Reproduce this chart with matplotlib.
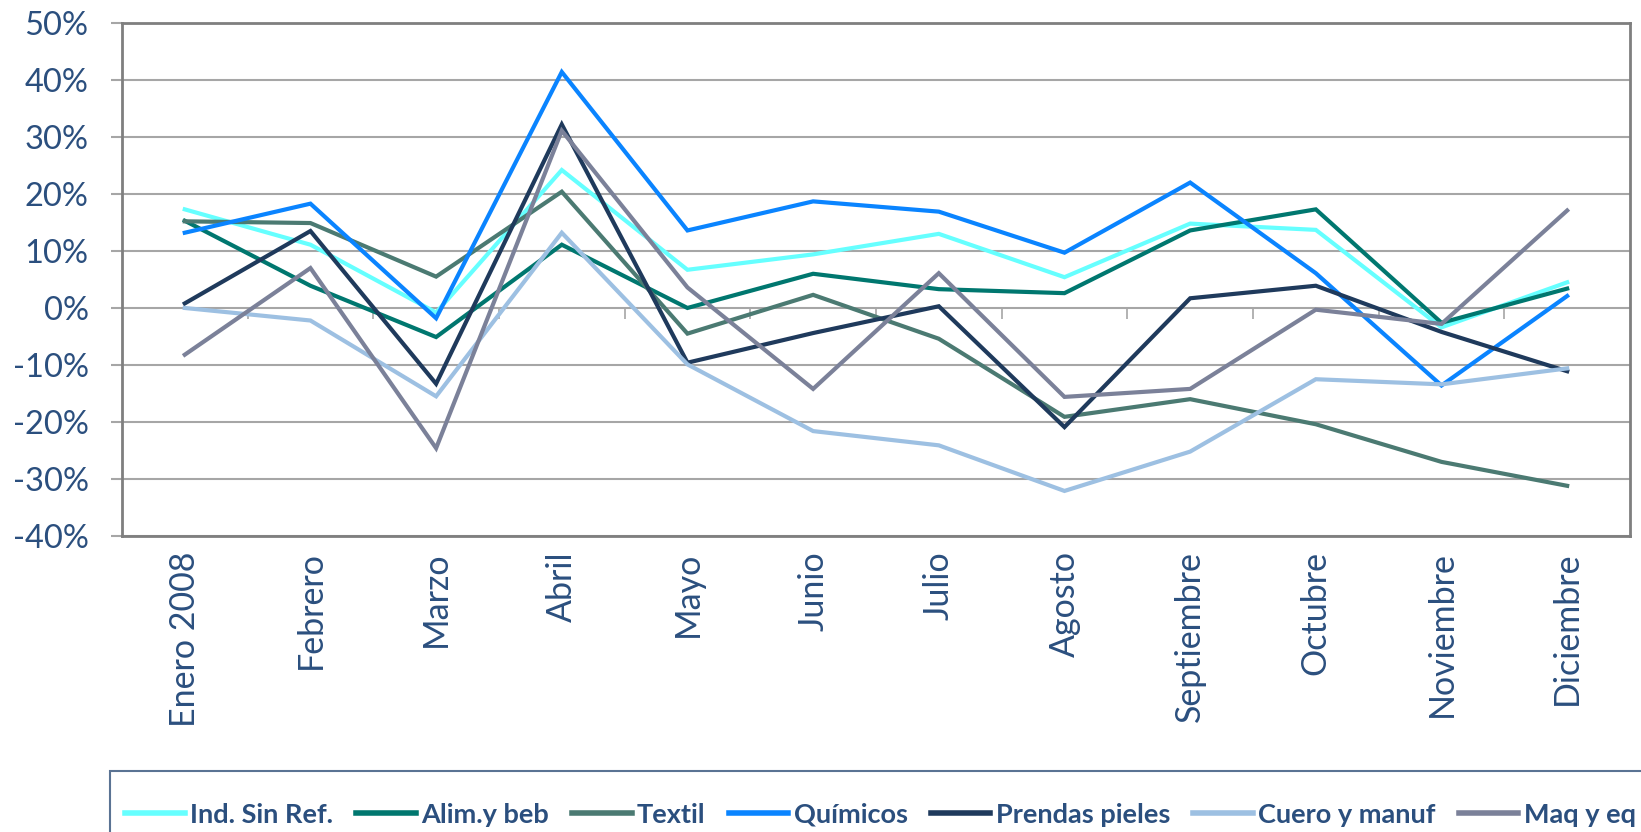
import numpy as np
import matplotlib
matplotlib.use("Agg")
import matplotlib.pyplot as plt
from matplotlib.patches import Rectangle

# categorias (meses) y series en %
meses = ["Enero 2008", "Febrero", "Marzo", "Abril", "Mayo", "Junio", "Julio",
         "Agosto", "Septiembre", "Octubre", "Noviembre", "Diciembre"]

ind_sin_ref = [17.3, 11.1, -0.8, 24.2, 6.7, 9.4, 13.0, 5.4, 14.8, 13.7, -3.4, 4.5]
alim_beb = [15.3, 3.9, -5.1, 11.1, 0.0, 6.0, 3.3, 2.6, 13.6, 17.3, -2.6, 3.4]
textil = [15.2, 14.9, 5.5, 20.4, -4.5, 2.3, -5.4, -19.1, -16.0, -20.4, -27.0, -31.2]
quimicos = [13.2, 18.3, -1.8, 41.4, 13.6, 18.7, 16.9, 9.7, 22.0, 6.1, -13.6, 2.1]
prendas = [0.8, 13.5, -13.3, 32.2, -9.6, -4.4, 0.3, -20.9, 1.7, 3.9, -4.2, -11.1]
cuero = [0.0, -2.2, -15.5, 13.2, -9.9, -21.6, -24.1, -32.1, -25.2, -12.5, -13.4, -10.6]
maq_eq = [-8.2, 7.0, -24.6, 31.1, 3.6, -14.2, 6.1, -15.6, -14.2, -0.3, -2.8, 17.1]

nombres = ["Ind. Sin Ref.", "Alim.y beb", "Textil", "Químicos",
           "Prendas pieles", "Cuero y manuf", "Maq y eq"]
series = [ind_sin_ref, alim_beb, textil, quimicos, prendas, cuero, maq_eq]
colores = ["#66FFFF", "#00776F", "#4B7A72", "#0A84FF", "#1F3A5C", "#9DC0E2", "#7B8199"]

txt = "#2B4F7E"

fig = plt.figure(figsize=(16.41, 8.32), dpi=100)
ax = fig.add_axes([0.0743, 0.3558, 0.9190, 0.6166])

x = np.arange(len(meses))
for vals, nom, col in zip(series, nombres, colores):
    ax.plot(x, vals, color=col, lw=3.0, label=nom, solid_joinstyle="miter")

ax.set_xlim(-0.5, len(meses) - 0.5)
ax.set_ylim(-40, 50)
ax.set_yticks(np.arange(-40, 51, 10))
ax.set_yticklabels([f"{v}%" for v in range(-40, 51, 10)])
ax.yaxis.grid(True, color="#A6A6A6", lw=1.5)
ax.set_axisbelow(True)

for s in ax.spines.values():
    s.set_color("#7F7F7F")
    s.set_linewidth(2)

ax.tick_params(axis="y", labelsize=23.5, colors="#A6A6A6",
               length=8, width=1.5, pad=16)
for t in ax.get_yticklabels():
    t.set_family("Lato")
    t.set_color(txt)

ax.set_xticks(x)
ax.set_xticklabels(meses, rotation=90, fontsize=24.5, color=txt, family="Lato")
ax.tick_params(axis="x", length=0, pad=11)

# eje de categorias en el 0% con marcas entre meses
sec = ax.secondary_xaxis(40 / 90)
sec.set_xticks(np.arange(0.5, len(meses) - 1, 1.0))
sec.set_xticklabels([])
sec.tick_params(axis="x", direction="out", length=8, width=1.2, colors="#A6A6A6")
sec.spines["bottom"].set_visible(False)

# leyenda
fig.patches.append(Rectangle((110 / 1641, -0.2), 1.1, 1 - 771 / 832 + 0.2,
                             transform=fig.transFigure, fill=False,
                             edgecolor="#5A7393", lw=1.5))
leg = fig.legend(loc="center left", bbox_to_anchor=(0.0615, 0.021), ncol=7,
                 frameon=False, handlelength=2.2, handletextpad=0.2,
                 columnspacing=0.85,
                 prop={"family": "Lato", "weight": "bold", "size": 19.5})
for t in leg.get_texts():
    t.set_color(txt)
for h in leg.get_lines():
    h.set_linewidth(4)

fig.savefig("out.png", dpi=100)
